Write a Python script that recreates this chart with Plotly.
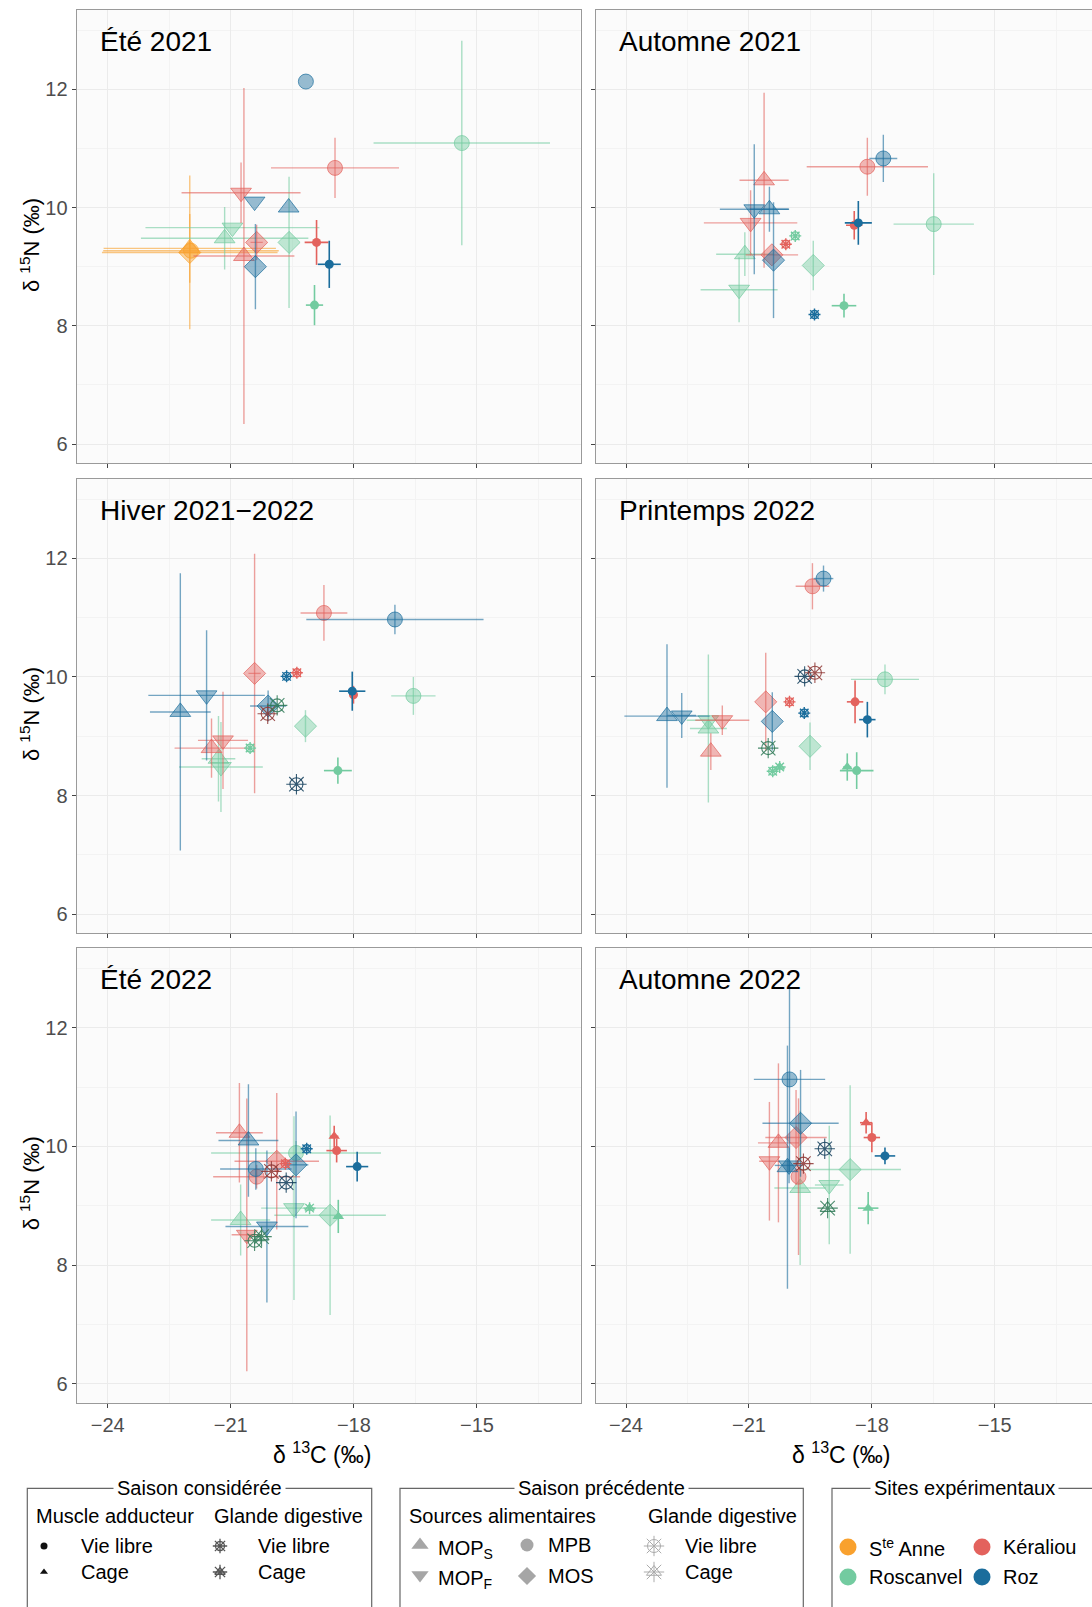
import plotly.graph_objects as go

W, H = 1092, 1607
FONT = "Liberation Sans, Arial, sans-serif"

SEASONS = ["Été 2021", "Automne 2021", "Hiver 2021−2022",
           "Printemps 2022", "Été 2022", "Automne 2022"]

SITES = ["StA", "Ker", "Ros", "Roz"]
SITE_LABELS = ["S<sup>te</sup> Anne", "Kéraliou", "Roscanvel", "Roz"]
SITE_COLORS = {"StA": "#F9A12E", "Ker": "#E3625D", "Ros": "#73CBA0", "Roz": "#1B6D9C"}
SITE_DARK = {"StA": "#8A5310", "Ker": "#8E3633", "Ros": "#2F7A57", "Roz": "#133F5C"}

X_TICKS = [-24, -21, -18, -15]
Y_TICKS = [6, 8, 10, 12]

# (site, source, d13C, sd13C, d15N, sd15N) -- food sources of the previous season
SOURCES_ETE21 = [
    ("StA", "MOS", -22.00, 2.14, 9.24, 1.30),
    ("StA", "MOPS", -22.00, 2.10, 9.31, 0.58),
    ("StA", "MPB", -21.97, 2.14, 9.27, 0.00),
    ("Ros", "MOPF", -20.96, 2.12, 9.66, 0.00),
    ("Ros", "MOPS", -21.15, 2.04, 9.48, 0.53),
    ("Ros", "MOS", -19.58, 0.00, 9.41, 1.11),
    ("Ros", "MPB", -15.37, 2.15, 11.09, 1.73),
    ("Ker", "MOPF", -20.75, 1.45, 10.25, 0.51),
    ("Ker", "MOPS", -20.68, 1.23, 9.18, 2.84),
    ("Ker", "MOS", -20.37, 0.15, 9.41, 0.30),
    ("Ker", "MPB", -18.46, 1.56, 10.67, 0.51),
    ("Roz", "MOPF", -20.42, 0.00, 10.10, 0.00),
    ("Roz", "MOPS", -19.59, 0.00, 10.00, 0.00),
    ("Roz", "MOS", -20.40, 0.00, 9.00, 0.72),
    ("Roz", "MPB", -19.17, 0.00, 12.13, 0.00),
]
SOURCES_AUT21 = [
    ("Ros", "MOPF", -21.24, 0.94, 8.61, 0.55),
    ("Ros", "MOPS", -21.10, 0.70, 9.21, 0.37),
    ("Ros", "MOS", -19.43, 0.00, 9.02, 0.42),
    ("Ros", "MPB", -16.49, 0.98, 9.72, 0.86),
    ("Ker", "MOPF", -20.96, 1.14, 9.74, 0.55),
    ("Ker", "MOPS", -20.63, 0.60, 10.46, 1.48),
    ("Ker", "MOS", -20.44, 0.64, 9.20, 0.00),
    ("Ker", "MPB", -18.11, 1.48, 10.69, 0.49),
    ("Roz", "MOPF", -20.87, 0.84, 9.97, 1.10),
    ("Roz", "MOPS", -20.50, 0.48, 9.97, 0.38),
    ("Roz", "MOS", -20.40, 0.00, 9.11, 0.98),
    ("Roz", "MPB", -17.72, 0.34, 10.83, 0.40),
]
SOURCES_HIV22 = [
    ("Ros", "MOPF", -21.24, 1.02, 8.48, 0.76),
    ("Ros", "MOPS", -21.30, 0.41, 8.62, 0.72),
    ("Ros", "MOS", -19.18, 0.00, 9.17, 0.27),
    ("Ros", "MPB", -16.55, 0.54, 9.68, 0.32),
    ("Ker", "MOPF", -21.19, 0.61, 8.93, 0.82),
    ("Ker", "MOPS", -21.47, 0.90, 8.80, 0.50),
    ("Ker", "MOS", -20.42, 0.15, 10.06, 2.02),
    ("Ker", "MPB", -18.73, 0.57, 11.08, 0.47),
    ("Roz", "MOPF", -21.59, 1.42, 9.69, 1.10),
    ("Roz", "MOPS", -22.23, 0.74, 9.41, 2.34),
    ("Roz", "MOS", -20.09, 0.44, 9.51, 0.26),
    ("Roz", "MPB", -17.00, 2.16, 10.97, 0.25),
]
SOURCES_PRI22 = [
    ("Ros", "MOPF", -21.99, 0.53, 9.27, 0.00),
    ("Ros", "MOPS", -21.99, 0.45, 9.13, 1.25),
    ("Ros", "MOS", -19.51, 0.00, 8.83, 0.40),
    ("Ros", "MPB", -17.68, 0.83, 9.96, 0.25),
    ("Ker", "MOPF", -21.65, 0.66, 9.27, 0.25),
    ("Ker", "MOPS", -21.93, 0.00, 8.74, 0.31),
    ("Ker", "MOS", -20.59, 0.00, 9.58, 0.83),
    ("Ker", "MPB", -19.45, 0.41, 11.53, 0.39),
    ("Roz", "MOPF", -22.64, 0.35, 9.35, 0.38),
    ("Roz", "MOPS", -23.00, 1.04, 9.34, 1.21),
    ("Roz", "MOS", -20.43, 0.00, 9.25, 0.49),
    ("Roz", "MPB", -19.18, 0.24, 11.66, 0.22),
]
SOURCES_ETE22 = [
    ("Ros", "MOPF", -19.46, 0.80, 8.96, 1.55),
    ("Ros", "MOPS", -20.76, 0.72, 8.76, 0.60),
    ("Ros", "MOS", -18.58, 1.36, 8.84, 1.68),
    ("Ros", "MPB", -19.41, 2.07, 9.89, 0.20),
    ("Ker", "MOPF", -20.61, 0.37, 8.51, 2.30),
    ("Ker", "MOPS", -20.79, 0.57, 10.23, 0.84),
    ("Ker", "MOS", -19.88, 1.03, 9.75, 1.15),
    ("Ker", "MPB", -20.37, 1.06, 9.49, 0.20),
    ("Roz", "MOPF", -20.12, 1.01, 8.65, 1.28),
    ("Roz", "MOPS", -20.57, 0.73, 10.10, 0.95),
    ("Roz", "MOS", -19.41, 0.30, 9.69, 0.90),
    ("Roz", "MPB", -20.39, 0.87, 9.62, 0.35),
]
SOURCES_AUT22 = [
    ("Ros", "MOPF", -19.04, 0.35, 9.35, 1.00),
    ("Ros", "MOPS", -19.75, 0.63, 9.30, 1.30),
    ("Ros", "MOS", -18.53, 1.24, 9.61, 1.42),
    ("Ker", "MOPF", -20.50, 0.25, 9.75, 1.00),
    ("Ker", "MOPS", -20.28, 0.50, 10.06, 1.34),
    ("Ker", "MOS", -19.85, 0.75, 10.15, 0.80),
    ("Ker", "MPB", -19.79, 0.00, 9.49, 1.32),
    ("Roz", "MOPF", -20.02, 0.35, 9.68, 0.30),
    ("Roz", "MOPS", -20.06, 0.00, 9.65, 2.05),
    ("Roz", "MOS", -19.74, 0.93, 10.39, 0.90),
    ("Roz", "MPB", -20.01, 0.87, 11.13, 1.55),
]

# (site, condition, d13C, sd, d15N, sd) -- adductor muscle, season considered
MUSCLE_ETE21 = [("Ker", "VL", -18.91, 0.29, 9.41, 0.38), ("Roz", "VL", -18.60, 0.28, 9.04, 0.40),
                ("Ros", "VL", -18.96, 0.21, 8.35, 0.34)]
MUSCLE_AUT21 = [("Ker", "VL", -18.43, 0.20, 9.70, 0.24), ("Roz", "VL", -18.33, 0.33, 9.74, 0.37),
                ("Ros", "VL", -18.68, 0.30, 8.34, 0.20)]
MUSCLE_HIV22 = [("Ker", "VL", -18.01, 0.10, 9.70, 0.15), ("Roz", "VL", -18.04, 0.32, 9.76, 0.33),
                ("Ros", "VL", -18.39, 0.34, 8.42, 0.22)]
MUSCLE_PRI22 = [("Ker", "VL", -18.41, 0.20, 9.58, 0.36), ("Roz", "VL", -18.11, 0.20, 9.28, 0.30),
                ("Ros", "VL", -18.37, 0.41, 8.42, 0.31), ("Ros", "Cage", -18.60, 0.10, 8.48, 0.23)]
MUSCLE_ETE22 = [("Ker", "Cage", -18.48, 0.10, 10.17, 0.18), ("Ker", "VL", -18.42, 0.25, 9.93, 0.20),
                ("Roz", "VL", -17.92, 0.27, 9.66, 0.25), ("Ros", "Cage", -18.38, 0.10, 8.82, 0.28)]
MUSCLE_AUT22 = [("Ker", "Cage", -18.14, 0.15, 10.40, 0.18), ("Ker", "VL", -18.00, 0.20, 10.15, 0.25),
                ("Roz", "VL", -17.68, 0.25, 9.84, 0.14), ("Ros", "Cage", -18.09, 0.25, 8.96, 0.27)]

# (site, condition, d13C, d15N) -- digestive gland, season considered
GLANDE_ETE21 = []
GLANDE_AUT21 = [("Ker", "VL", -20.10, 9.38), ("Ros", "VL", -19.87, 9.52), ("Roz", "VL", -19.40, 8.19)]
GLANDE_HIV22 = [("Roz", "VL", -19.64, 10.01), ("Ker", "VL", -19.39, 10.07), ("Ros", "VL", -20.53, 8.80)]
GLANDE_PRI22 = [("Ker", "VL", -20.01, 9.58), ("Roz", "VL", -19.65, 9.39),
                ("Ros", "VL", -20.42, 8.41), ("Ros", "Cage", -20.25, 8.48)]
GLANDE_ETE22 = [("Roz", "VL", -19.15, 9.96), ("Ker", "VL", -19.67, 9.71), ("Ros", "Cage", -19.08, 8.96)]
GLANDE_AUT22 = []

SOURCES = [SOURCES_ETE21, SOURCES_AUT21, SOURCES_HIV22, SOURCES_PRI22, SOURCES_ETE22, SOURCES_AUT22]
MUSCLES = [MUSCLE_ETE21, MUSCLE_AUT21, MUSCLE_HIV22, MUSCLE_PRI22, MUSCLE_ETE22, MUSCLE_AUT22]
GLANDES = [GLANDE_ETE21, GLANDE_AUT21, GLANDE_HIV22, GLANDE_PRI22, GLANDE_ETE22, GLANDE_AUT22]

# ---------------------------------------------------------------- styles
SRC_SYMBOL = {"MOPS": "triangle-up", "MOPF": "triangle-down", "MPB": "circle", "MOS": "diamond"}
SRC_SIZE = {"MOPS": 18, "MOPF": 18, "MPB": 15, "MOS": 17}
MUS_SYMBOL = {"VL": "circle", "Cage": "triangle-up"}
GL_SHAPE = {"VL": "circle-open", "Cage": "triangle-up-open"}


def rgba(hx, a):
    hx = hx.lstrip("#")
    r, g, b = int(hx[0:2], 16), int(hx[2:4], 16), int(hx[4:6], 16)
    return f"rgba({r},{g},{b},{a})"


def px(x):
    return x / W


def py(y):
    return 1 - y / H


X_DOM = [(76.6 / W, 580.5 / W), (595.7 / W, 1.0)]
X_RNG = [(-24.758, -12.477), (-24.74, -12.627)]
ROW_TOP = [10, 479, 948.3]
ROW_BOT = [463, 933, 1402.7]
Y_RNG = (5.68, 13.34)

fig = go.Figure()
shapes, annotations = [], []
GRID = "#EBEBEB"
MINOR = "#F3F3F3"
BORDER = "#9A9A9A"


def ax(n):
    return ("x" if n == 1 else f"x{n}"), ("y" if n == 1 else f"y{n}")


def glande_traces(items, xa, ya, prev):
    for site, cond, x, y in items:
        col = SITE_DARK[site] if prev else SITE_COLORS[site]
        s_in = 13 if prev else 8
        s_out = 17 if prev else 10
        lw = 1.1 if prev else 1.4
        op = 0.85 if prev else 1.0
        for sym, size in ((GL_SHAPE[cond], s_in), ("asterisk-open", s_out)):
            fig.add_trace(go.Scatter(
                x=[x], y=[y], mode="markers", xaxis=xa, yaxis=ya, opacity=op,
                marker=dict(symbol=sym, size=size, color=col, line=dict(width=lw, color=col)),
                hoverinfo="skip", showlegend=False))


for p in range(6):
    row, col = divmod(p, 2)
    n = p + 1
    xa, ya = ax(n)
    shapes.append(dict(type="rect", xref=f"{xa} domain", yref=f"{ya} domain", x0=0, x1=1, y0=0, y1=1,
                       fillcolor="#FBFBFB", line=dict(width=0), layer="below"))
    for site, src, x, xsd, y, ysd in SOURCES[p]:
        c = SITE_COLORS[site]
        fig.add_trace(go.Scatter(
            x=[x], y=[y], mode="markers", xaxis=xa, yaxis=ya,
            marker=dict(symbol=SRC_SYMBOL[src], size=SRC_SIZE[src], color=rgba(c, 0.45),
                        line=dict(color=rgba(c, 0.7), width=1)),
            error_x=dict(type="data", array=[xsd], color=rgba(c, 0.6), thickness=1.4, width=0, visible=xsd > 0),
            error_y=dict(type="data", array=[ysd], color=rgba(c, 0.6), thickness=1.4, width=0, visible=ysd > 0),
            hoverinfo="skip", showlegend=False))
    if p > 0:
        glande_traces(GLANDES[p - 1], xa, ya, prev=True)
    for site, cond, x, xsd, y, ysd in MUSCLES[p]:
        c = SITE_COLORS[site]
        fig.add_trace(go.Scatter(
            x=[x], y=[y], mode="markers", xaxis=xa, yaxis=ya,
            marker=dict(symbol=MUS_SYMBOL[cond], size=9 if cond == "VL" else 10, color=c, line=dict(width=0)),
            error_x=dict(type="data", array=[xsd], color=c, thickness=1.6, width=0),
            error_y=dict(type="data", array=[ysd], color=c, thickness=1.6, width=0),
            hoverinfo="skip", showlegend=False))
    glande_traces(GLANDES[p], xa, ya, prev=False)

    xkey = "xaxis" if n == 1 else f"xaxis{n}"
    ykey = "yaxis" if n == 1 else f"yaxis{n}"
    fig.layout[xkey] = dict(
        domain=X_DOM[col], range=X_RNG[col], anchor=ya, tickmode="array", tickvals=X_TICKS,
        showticklabels=(row == 2), ticks="outside", ticklen=4, tickcolor="#444",
        tickfont=dict(family=FONT, size=20, color="#4D4D4D"),
        showgrid=True, gridcolor=GRID, gridwidth=1,
        minor=dict(tickmode="linear", tick0=-22.5, dtick=3, showgrid=True, gridcolor=MINOR, gridwidth=0.7),
        showline=True, linecolor=BORDER, linewidth=1, mirror=True, zeroline=False, fixedrange=True)
    fig.layout[ykey] = dict(
        domain=(py(ROW_BOT[row]), py(ROW_TOP[row])), range=Y_RNG, anchor=xa,
        tickmode="array", tickvals=Y_TICKS, showticklabels=(col == 0), ticks="outside", ticklen=4,
        tickcolor="#444", tickfont=dict(family=FONT, size=20, color="#4D4D4D"),
        showgrid=True, gridcolor=GRID, gridwidth=1,
        minor=dict(tickmode="linear", tick0=7, dtick=2, showgrid=True, gridcolor=MINOR, gridwidth=0.7),
        showline=True, linecolor=BORDER, linewidth=1, mirror=(col == 0), zeroline=False, fixedrange=True)
    annotations.append(dict(text=SEASONS[p], xref="paper", yref="paper",
                            x=px(98 if col == 0 else 617), y=py(ROW_TOP[row] + 31),
                            xanchor="left", yanchor="middle", showarrow=False,
                            font=dict(family=FONT, size=28, color="#000")))
    if col == 0:
        annotations.append(dict(text="δ <sup>15</sup>N (‰)", xref="paper", yref="paper",
                                x=px(30), y=py(ROW_TOP[row] + 235), textangle=-90,
                                xanchor="center", yanchor="middle", showarrow=False,
                                font=dict(family=FONT, size=22, color="#000")))

for cx in (322, 841):
    annotations.append(dict(text="δ <sup>13</sup>C (‰)", xref="paper", yref="paper",
                            x=px(cx), y=py(1453), xanchor="center", yanchor="middle", showarrow=False,
                            font=dict(family=FONT, size=23, color="#000")))

# ---------------------------------------------------------------- legend (pixel coordinate subplot)
LX, LY = "x7", "y7"
fig.layout["xaxis7"] = dict(domain=(0, 1), range=(0, W), visible=False, fixedrange=True, anchor="y7")
fig.layout["yaxis7"] = dict(domain=(0, py(1430)), range=(H, 1430), visible=False, fixedrange=True, anchor="x7")

LFONT = dict(family=FONT, size=20, color="#000")


def ltext(t, x, y, anchor="left"):
    annotations.append(dict(text=t, xref=LX, yref=LY, x=x, y=y, xanchor=anchor, yanchor="middle",
                            showarrow=False, font=LFONT))


def lmark(sym, x, y, size, color, lw=0, lcolor=None):
    fig.add_trace(go.Scatter(x=[x], y=[y], mode="markers", xaxis=LX, yaxis=LY,
                             marker=dict(symbol=sym, size=size, color=color,
                                         line=dict(width=lw, color=lcolor or color)),
                             hoverinfo="skip", showlegend=False))


def lglande(cond, x, y, color, small):
    lmark(GL_SHAPE[cond], x, y, 9 if small else 13, color, lw=1.3 if small else 1.0)
    lmark("asterisk-open", x, y, 12 if small else 17, color, lw=1.3 if small else 1.0)


BOXES = [(27.3, 371.7, "Saison considérée", 199), (400, 803.3, "Saison précédente", 601.7),
         (832, 1096, "Sites expérimentaux", 964)]
for x0, x1, title, tc in BOXES:
    shapes.append(dict(type="rect", xref="paper", yref="paper", x0=px(x0), x1=px(x1),
                       y0=py(1625), y1=py(1488.3), line=dict(color="#666", width=1.2),
                       fillcolor="rgba(0,0,0,0)"))
    annotations.append(dict(text=title, xref="paper", yref="paper", x=px(tc), y=py(1488.3),
                            xanchor="center", yanchor="middle", showarrow=False, font=LFONT,
                            bgcolor="#FFFFFF", borderpad=3))

# box 1
ltext("Muscle adducteur", 34, 1516)
ltext("Glande digestive", 212, 1516)
lmark("circle", 44, 1546, 7, "#111")
lmark("triangle-up", 44, 1572, 7, "#111")
ltext("Vie libre", 79, 1546)
ltext("Cage", 79, 1572)
lglande("VL", 220, 1546, "#555", True)
lglande("Cage", 220, 1572, "#555", True)
ltext("Vie libre", 256, 1546)
ltext("Cage", 256, 1572)

# box 2
ltext("Sources alimentaires", 407, 1516)
ltext("Glande digestive", 646, 1516)
lmark("triangle-up", 420, 1545, 15, "#A6A6A6")
lmark("triangle-down", 420, 1575, 15, "#A6A6A6")
lmark("circle", 527, 1545, 13, "#A6A6A6")
lmark("diamond", 527, 1576, 14, "#A6A6A6")
ltext("MOP<sub>S</sub>", 436, 1549)
ltext("MOP<sub>F</sub>", 436, 1579)
ltext("MPB", 546, 1545)
ltext("MOS", 546, 1576)
lglande("VL", 654, 1546, "#ABABAB", False)
lglande("Cage", 654, 1572, "#ABABAB", False)
ltext("Vie libre", 683, 1546)
ltext("Cage", 683, 1572)

# box 3
SITE_LEG_POS = [(848, 1547), (982, 1547), (848, 1577), (982, 1577)]
for (sx, sy), s, lab in zip(SITE_LEG_POS, SITES, SITE_LABELS):
    lmark("circle", sx, sy, 17, SITE_COLORS[s])
    ltext(lab, sx + 19, sy)

fig.update_layout(
    width=W, height=H, margin=dict(l=0, r=0, t=0, b=0),
    paper_bgcolor="#FFFFFF", plot_bgcolor="rgba(0,0,0,0)",
    showlegend=False, shapes=shapes, annotations=annotations,
    font=dict(family=FONT),
)

fig.write_html("out.html", config={"displayModeBar": False},
               post_script="document.body.style.margin='0px';document.body.style.overflow='hidden';")
